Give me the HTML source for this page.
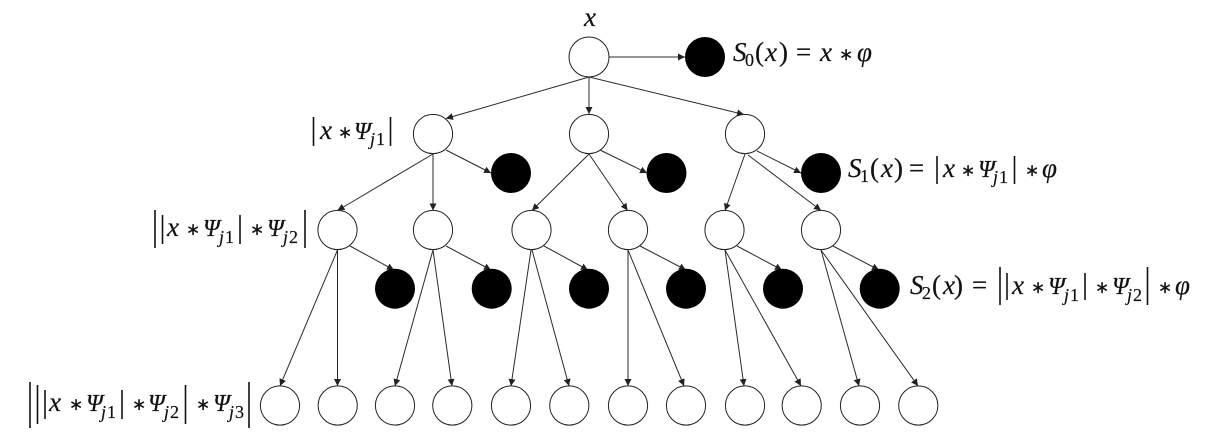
<!DOCTYPE html>
<html><head><meta charset="utf-8"><style>
html,body{margin:0;padding:0;background:#fff}
svg{display:block}
text{font-family:"Liberation Serif",serif;fill:#111;stroke:#111;stroke-width:.2}
.i{font-style:italic;font-size:27px}
.r{font-size:27px}
.p{font-style:italic;font-size:24px}
.s{font-size:18px}
.si{font-size:18px;font-style:italic}
.a{font-size:17px}
.c circle{fill:#fff;stroke:#222;stroke-width:1}
.b circle{fill:#000;stroke:none}
.e line{stroke:#2a2a2a;stroke-width:1;marker-end:url(#m)}
.bar line{stroke:#111;stroke-width:1.6}
</style></head><body>
<svg width="1212" height="440" viewBox="0 0 1212 440" xmlns="http://www.w3.org/2000/svg">
<defs><marker id="m" markerUnits="userSpaceOnUse" markerWidth="8" markerHeight="8" refX="7" refY="3.5" orient="auto"><path d="M0,0 L7,3.5 L0,7 Z" fill="#222"/></marker></defs>
<rect width="1212" height="440" fill="#fff"/>
<g class="e">
<line x1="608.5" y1="57" x2="685" y2="57"/>
<line x1="589" y1="77" x2="446" y2="118.5"/>
<line x1="589" y1="77" x2="589" y2="114"/>
<line x1="589" y1="77" x2="744" y2="114.5"/>
<line x1="433" y1="154" x2="337.5" y2="210.5"/>
<line x1="433" y1="154" x2="433" y2="210.5"/>
<line x1="446" y1="150" x2="491" y2="173"/>
<line x1="589" y1="154" x2="532" y2="210.5"/>
<line x1="589" y1="154" x2="627.5" y2="210.5"/>
<line x1="600" y1="150" x2="647" y2="173"/>
<line x1="745" y1="154" x2="725" y2="210.5"/>
<line x1="748" y1="155" x2="821" y2="210.5"/>
<line x1="757" y1="151" x2="801" y2="173"/>
<line x1="350" y1="246" x2="394" y2="270"/>
<line x1="446" y1="246" x2="491" y2="270"/>
<line x1="544" y1="246" x2="588" y2="270"/>
<line x1="640" y1="246" x2="686" y2="270"/>
<line x1="737" y1="246" x2="782" y2="270"/>
<line x1="833" y1="246" x2="879" y2="270"/>
<line x1="337.5" y1="250" x2="280" y2="386"/>
<line x1="337.5" y1="250" x2="337.5" y2="386"/>
<line x1="433" y1="250" x2="395" y2="386"/>
<line x1="433" y1="250" x2="452" y2="386"/>
<line x1="531" y1="250" x2="511" y2="386"/>
<line x1="532" y1="250" x2="569" y2="386"/>
<line x1="628" y1="250" x2="628" y2="386"/>
<line x1="628" y1="250" x2="684" y2="386"/>
<line x1="725" y1="250" x2="744" y2="386"/>
<line x1="725" y1="250" x2="801" y2="386"/>
<line x1="821" y1="250" x2="859" y2="386"/>
<line x1="821" y1="250" x2="918" y2="386"/>
</g>
<g class="c">
<circle cx="589" cy="57" r="20"/>
<circle cx="433" cy="134" r="19.6"/><circle cx="589" cy="134" r="19.6"/><circle cx="745" cy="134" r="19.6"/>
<circle cx="337.5" cy="230" r="19.6"/><circle cx="433" cy="230" r="19.6"/><circle cx="531.5" cy="230" r="19.6"/><circle cx="628" cy="230" r="19.6"/><circle cx="724.5" cy="230" r="19.6"/><circle cx="821" cy="230" r="19.6"/>
<circle cx="280" cy="405.5" r="19.6"/><circle cx="337.7" cy="405.5" r="19.6"/><circle cx="395" cy="405.5" r="19.6"/><circle cx="452.3" cy="405.5" r="19.6"/><circle cx="511" cy="405.5" r="19.6"/><circle cx="569.3" cy="405.5" r="19.6"/><circle cx="628" cy="405.5" r="19.6"/><circle cx="686" cy="405.5" r="19.6"/><circle cx="745" cy="405.5" r="19.6"/><circle cx="801.7" cy="405.5" r="19.6"/><circle cx="860" cy="405.5" r="19.6"/><circle cx="918.3" cy="405.5" r="19.6"/>
</g>
<g class="b">
<circle cx="705" cy="57" r="20"/>
<circle cx="511" cy="173" r="20"/><circle cx="666.5" cy="173" r="20"/><circle cx="821" cy="173" r="20"/>
<circle cx="395" cy="288.7" r="20"/><circle cx="491.7" cy="288.7" r="20"/><circle cx="589" cy="288.7" r="20"/><circle cx="686" cy="288.7" r="20"/><circle cx="783" cy="288.7" r="20"/><circle cx="879.7" cy="288.7" r="20"/>
</g>
<g class="bar">
<line x1="313.5" y1="117" x2="313.5" y2="146"/><line x1="390.5" y1="117" x2="390.5" y2="146"/>
<line x1="155" y1="210" x2="155" y2="248"/><line x1="305" y1="210" x2="305" y2="248"/><line x1="162.5" y1="215" x2="162.5" y2="244"/><line x1="240" y1="215" x2="240" y2="244"/>
<line x1="30" y1="382" x2="30" y2="428"/><line x1="37.5" y1="385" x2="37.5" y2="424"/><line x1="45" y1="390" x2="45" y2="419"/><line x1="122" y1="390" x2="122" y2="419"/><line x1="185.5" y1="385" x2="185.5" y2="424"/><line x1="249" y1="382" x2="249" y2="428"/>
<line x1="937" y1="156" x2="937" y2="184"/><line x1="1014.5" y1="156" x2="1014.5" y2="184"/>
<line x1="1000" y1="267" x2="1000" y2="305"/><line x1="1007" y1="273" x2="1007" y2="300"/><line x1="1085" y1="273" x2="1085" y2="300"/><line x1="1147.5" y1="267" x2="1147.5" y2="305"/>
</g>
<text class="i" x="584" y="26">x</text>

<text class="i" x="733" y="61">S</text><text class="s" x="745" y="66">0</text><text class="r" x="755" y="61">(</text><text class="i" x="765" y="61">x</text><text class="r" x="779" y="61">)</text><text class="r" x="796" y="61">=</text><text class="i" x="820" y="61">x</text><text class="a" x="839" y="60">∗</text><text class="i" x="857" y="61">φ</text>

<text class="i" x="320" y="139">x</text><text class="a" x="338" y="138">∗</text><text class="p" x="354" y="139">Ψ</text><text class="si" x="370" y="145">j</text><text class="s" x="376" y="145">1</text>

<text class="i" x="848" y="177">S</text><text class="s" x="860" y="182">1</text><text class="r" x="870" y="177">(</text><text class="i" x="881" y="177">x</text><text class="r" x="894" y="177">)</text><text class="r" x="909" y="177">=</text><text class="i" x="943" y="177">x</text><text class="a" x="961" y="176">∗</text><text class="p" x="978" y="177">Ψ</text><text class="si" x="993" y="183">j</text><text class="s" x="999" y="183">1</text><text class="a" x="1025" y="176">∗</text><text class="i" x="1042" y="177">φ</text>

<text class="i" x="167" y="236">x</text><text class="a" x="186" y="235">∗</text><text class="p" x="203" y="236">Ψ</text><text class="si" x="219" y="243">j</text><text class="s" x="225" y="243">1</text><text class="a" x="250" y="235">∗</text><text class="p" x="267" y="236">Ψ</text><text class="si" x="283" y="243">j</text><text class="s" x="289" y="243">2</text>

<text class="i" x="910" y="294">S</text><text class="s" x="922" y="299">2</text><text class="r" x="932" y="294">(</text><text class="i" x="943" y="294">x</text><text class="r" x="954" y="294">)</text><text class="r" x="972" y="294">=</text><text class="i" x="1012" y="294">x</text><text class="a" x="1031" y="293">∗</text><text class="p" x="1048" y="294">Ψ</text><text class="si" x="1064" y="301">j</text><text class="s" x="1070" y="301">1</text><text class="a" x="1095" y="293">∗</text><text class="p" x="1112" y="294">Ψ</text><text class="si" x="1127" y="301">j</text><text class="s" x="1133" y="301">2</text><text class="a" x="1158" y="293">∗</text><text class="i" x="1175" y="294">φ</text>

<text class="i" x="49" y="411">x</text><text class="a" x="69" y="410">∗</text><text class="p" x="86" y="411">Ψ</text><text class="si" x="101" y="418">j</text><text class="s" x="107" y="418">1</text><text class="a" x="132" y="410">∗</text><text class="p" x="148" y="411">Ψ</text><text class="si" x="164" y="418">j</text><text class="s" x="170" y="418">2</text><text class="a" x="196" y="410">∗</text><text class="p" x="213" y="411">Ψ</text><text class="si" x="229" y="418">j</text><text class="s" x="235" y="418">3</text>
</svg>
</body></html>
